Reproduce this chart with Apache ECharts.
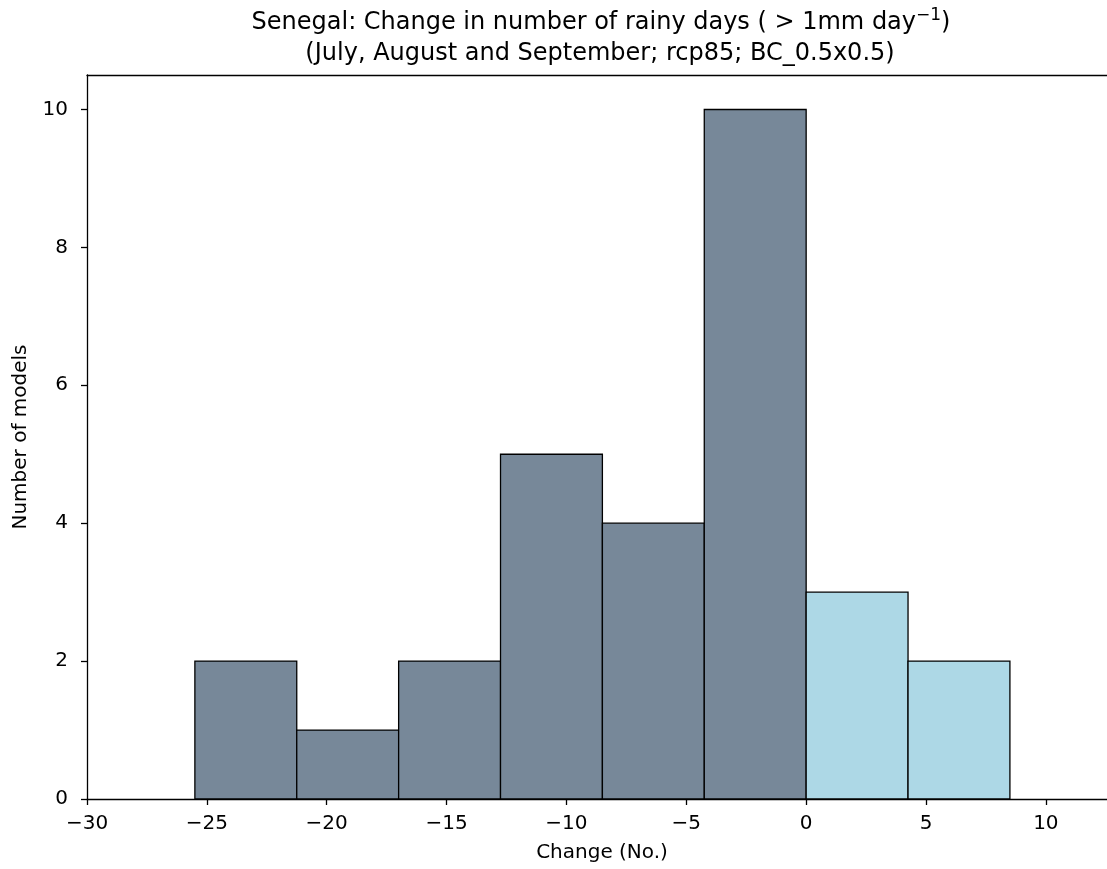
<!DOCTYPE html>
<html>
<head>
<meta charset="utf-8">
<script src="https://cdn.jsdelivr.net/npm/echarts@6/dist/echarts.min.js"></script>
<style>html,body{margin:0;padding:0;background:#fff;}#c{width:1107px;height:869px;}</style>
</head>
<body>
<div id="c"></div>
<script>
// Histogram bin edges (change in number of rainy days) and model counts
const binEdges = [-25.5, -21.25, -17.0, -12.75, -8.5, -4.25, 0.0, 4.25, 8.5];
const counts = [2, 1, 2, 5, 4, 10, 3, 2];
const xTicks = [-30, -25, -20, -15, -10, -5, 0, 5, 10];
const yTicks = [0, 2, 4, 6, 8, 10];
const titleMain = 'Senegal: Change in number of rainy days ( > 1mm day';
const titleSup = '\u22121';
const titleEnd = ')';
const titleLine2 = '(July, August and September; rcp85; BC_0.5x0.5)';
const xName = 'Change (No.)';
const yName = 'Number of models';

const FONT = 'DejaVu Sans';
const data = counts.map((c, i) => [binEdges[i], binEdges[i + 1], c]);
const fmt = v => (v < 0 ? '\u2212' + Math.abs(v) : String(v));
const XMIN = -30, XMAX = 12.55;

const chart = echarts.init(document.getElementById('c'), null, {renderer: 'canvas'});
chart.setOption({
  animation: false,
  backgroundColor: '#fff',
  grid: {left: 87, right: 0, top: 75, bottom: 70},
  xAxis: [{
    type: 'value', min: XMIN, max: XMAX, interval: 5,
    axisLine: {show: true, onZero: false, lineStyle: {color: '#000', width: 1.3}},
    axisTick: {show: true, length: 6, lineStyle: {color: '#000', width: 1.3}},
    splitLine: {show: false},
    axisLabel: {fontFamily: FONT, fontSize: 20, color: '#000', margin: 15, showMaxLabel: false,
      formatter: v => (xTicks.indexOf(v) >= 0 ? fmt(v) : '')}
  }, {
    type: 'value', min: XMIN, max: XMAX, position: 'top',
    axisLine: {show: true, onZero: false, lineStyle: {color: '#000', width: 1.3}},
    axisTick: {show: false}, axisLabel: {show: false}, splitLine: {show: false}
  }],
  yAxis: {
    type: 'value', min: 0, max: 10.5, interval: 2,
    axisLine: {show: true, onZero: false, lineStyle: {color: '#000', width: 1.3}},
    axisTick: {show: true, length: 6, lineStyle: {color: '#000', width: 1.3}},
    splitLine: {show: false},
    axisLabel: {fontFamily: FONT, fontSize: 20, color: '#000', margin: 19, showMaxLabel: false,
      formatter: v => (yTicks.indexOf(v) >= 0 ? fmt(v) : '')}
  },
  series: [{
    type: 'custom',
    xAxisIndex: 0,
    data: data,
    encode: {x: [0, 1], y: 2},
    renderItem: function (params, api) {
      const x0 = api.value(0), x1 = api.value(1), h = api.value(2);
      const p0 = api.coord([x0, h]);
      const p1 = api.coord([x1, 0]);
      return {
        type: 'rect',
        shape: {x: p0[0], y: p0[1], width: p1[0] - p0[0], height: p1[1] - p0[1]},
        style: {fill: x0 < 0 ? '#778899' : '#ADD8E6', stroke: '#000', lineWidth: 1.3}
      };
    }
  }],
  graphic: [
    {type: 'text', x: 601, y: 21, style: {
      text: '{a|' + titleMain + '}{s|' + titleSup + '}{a|' + titleEnd + '}',
      rich: {
        a: {fontFamily: FONT, fontSize: 24, color: '#000', verticalAlign: 'bottom', lineHeight: 28},
        s: {fontFamily: FONT, fontSize: 17, color: '#000', verticalAlign: 'top', lineHeight: 17, padding: [0, 0, 0, 0]}
      },
      textAlign: 'center', textVerticalAlign: 'middle'}},
    {type: 'text', x: 600, y: 54, style: {text: titleLine2, font: '24px "DejaVu Sans"', fill: '#000', textAlign: 'center', textVerticalAlign: 'middle'}},
    {type: 'text', x: 602, y: 853, style: {text: xName, font: '20px "DejaVu Sans"', fill: '#000', textAlign: 'center', textVerticalAlign: 'middle'}},
    {type: 'text', x: 21, y: 437, rotation: Math.PI / 2, style: {text: yName, font: '20px "DejaVu Sans"', fill: '#000', textAlign: 'center', textVerticalAlign: 'middle'}}
  ]
});
</script>
</body>
</html>
